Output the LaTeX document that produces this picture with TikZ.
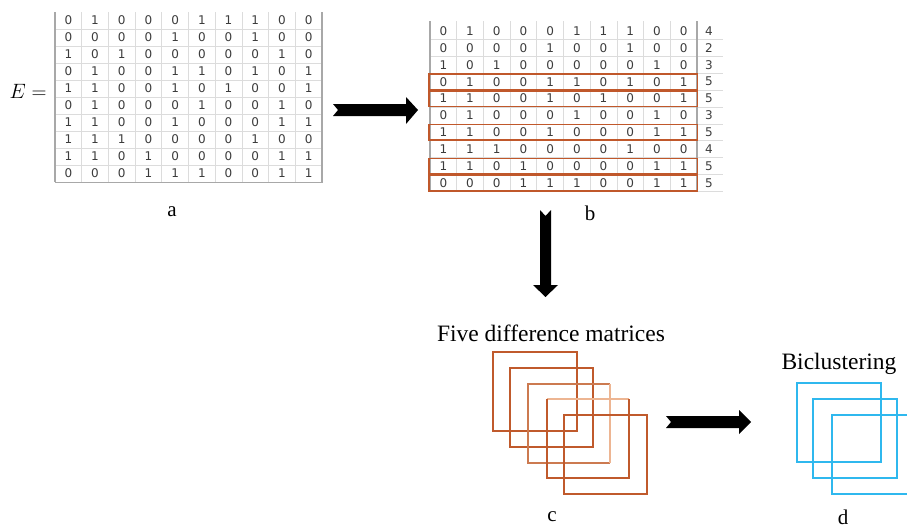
\documentclass[tikz,border=0pt]{standalone}
\usepackage{fontspec}
\setmainfont{Liberation Serif}
\newfontfamily\cellfont{DejaVu Sans}
\usetikzlibrary{calc}
\definecolor{gridlight}{HTML}{DCDCDC}
\definecolor{gridborder}{HTML}{A8A8A8}
\definecolor{celltext}{HTML}{3C3C3C}
\definecolor{boxorange}{HTML}{C0582B}
\definecolor{sqbrown}{HTML}{C05A2C}
\definecolor{sqmid}{HTML}{CC7A50}
\definecolor{sqlight}{HTML}{EDB592}
\definecolor{sqblue}{HTML}{2FB8EE}
\tikzset{
  cell/.style={font=\cellfont\fontsize{12}{13}\selectfont, text=celltext, inner sep=0pt, anchor=center},
  lightline/.style={draw=gridlight, line width=0.8pt},
  borderline/.style={draw=gridborder, line width=1.1pt},
  rowbox/.style={draw=boxorange, line width=1.6pt},
  label/.style={font=\fontsize{21}{24}\selectfont, inner sep=0pt},
  caption/.style={font=\fontsize{23.5}{26}\selectfont, inner sep=0pt},
  sq/.style={draw=sqbrown, line width=1.8pt},
  bsq/.style={draw=sqblue, line width=1.8pt},
  blockarrow/.style={fill=black},
}
\begin{document}
\begin{tikzpicture}[x=1pt,y=-1pt]
\useasboundingbox (0,0) rectangle (907,528);
\def\rowsdata{{0,1,0,0,0,1,1,1,0,0},{0,0,0,0,1,0,0,1,0,0},{1,0,1,0,0,0,0,0,1,0},{0,1,0,0,1,1,0,1,0,1},{1,1,0,0,1,0,1,0,0,1},{0,1,0,0,0,1,0,0,1,0},{1,1,0,0,1,0,0,0,1,1},{1,1,1,0,0,0,0,1,0,0},{1,1,0,1,0,0,0,0,1,1},{0,0,0,1,1,1,0,0,1,1}}

% ---------------- Matrix a ----------------
\foreach \k in {1,...,9} {
  \draw[lightline] (55,{12+17*\k}) -- (322,{12+17*\k});
  \draw[lightline] ({55+26.7*\k},12) -- ({55+26.7*\k},182);
}
\draw[borderline] (55,12) -- (55,182);
\draw[borderline, line width=1.5pt] (322,12) -- (322,182.5) -- (55,182.5);
\foreach \row [count=\j] in \rowsdata {
  \foreach \v [count=\i] in \row {
    \node[cell] (a-\j-\i) at ({55+26.7*(\i-0.5)},{12+17*(\j-0.5)}) {\v};
  }
}
\node[inner sep=0pt, font=\fontsize{21}{23}\selectfont] (Eq) at (28,91) {$E=$};
\node[label] (la) at (172,212) {a};

% ---------------- Matrix b ----------------
\foreach \k in {1,...,10} {
  \draw[lightline] (430,{22.5+16.9*\k}) -- (723,{22.5+16.9*\k});
}
\foreach \k in {1,...,9} {
  \draw[lightline] ({430+26.7*\k},21) -- ({430+26.7*\k},191.5);
}
\draw[borderline] (430,21) -- (430,191.5);
\draw[borderline] (697,21) -- (697,191.5);
\foreach \row [count=\j] in \rowsdata {
  \foreach \v [count=\i] in \row {
    \node[cell] (b-\j-\i) at ({430+26.7*(\i-0.5)},{22.5+16.9*(\j-0.5)}) {\v};
  }
}
\foreach \s [count=\j] in {4,2,3,5,5,3,5,4,5,5} {
  \node[cell] (s-\j) at (709,{22.5+16.9*(\j-0.5)}) {\s};
}
\foreach \j in {4,5,7,9,10} {
  \draw[rowbox] (429,{22.5+16.9*(\j-1)+0.6}) rectangle (697.5,{22.5+16.9*\j-0.6});
}
\node[label] (lb) at (590,213) {b};

% ---------------- Arrows ----------------
\fill[blockarrow] (333,104) -- (406,104) -- (406,97) -- (418,110) -- (406,124) -- (406,116) -- (333,116) -- (338,110) -- cycle;
\fill[blockarrow] (540,210) -- (545.5,216) -- (551,210) -- (551,285) -- (558,285) -- (545.5,297) -- (533,285) -- (540,285) -- cycle;
\fill[blockarrow] (666,416) -- (739,416) -- (739,410) -- (751,422) -- (739,434) -- (739,428) -- (666,428) -- (671,422) -- cycle;

% ---------------- Difference matrices ----------------
\node[caption] (cap1) at (551,333) {Five difference matrices};
\draw[sq] (493.3,352.3) rectangle (576.7,430.7);
\draw[sq] (510,368.3) rectangle (592.7,447.3);
\draw[sq, draw=sqmid] (610,463.3) -- (527.7,463.3) -- (527.7,384) -- (610,384);
\draw[sq, draw=sqlight] (610,384) -- (610,463.3);
\draw[sq, draw=sqlight] (546.7,399.3) -- (629,399.3);
\draw[sq] (629,399.3) -- (629,478.3) -- (546.7,478.3) -- (546.7,399.3);
\draw[sq] (564.3,415) rectangle (646.7,494);
\node[label] (lc) at (552,517) {c};

% ---------------- Biclustering ----------------
\node[caption] (cap2) at (839,364) {Biclustering};
\draw[bsq] (797.3,383.3) rectangle (881,461.7);
\draw[bsq] (813.3,399.3) rectangle (897.3,478.3);
\draw[bsq] (831.7,415) rectangle (915,494);
\node[label] (ld) at (843,517) {d};
\end{tikzpicture}
\end{document}
